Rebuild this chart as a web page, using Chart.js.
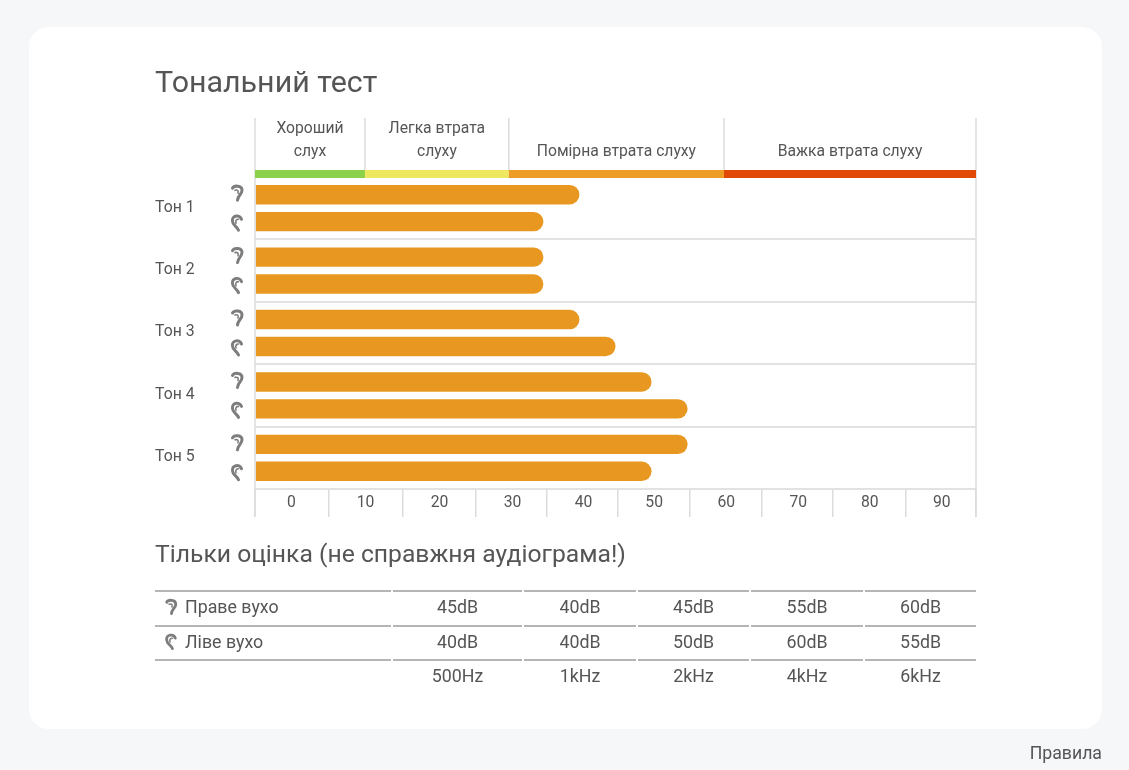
<!DOCTYPE html>
<html lang="uk">
<head>
<meta charset="utf-8">
<title>Тональний тест</title>
<style>
html,body{margin:0;padding:0;background:#f6f7f9;width:1129px;height:770px;overflow:hidden;font-family:Roboto,sans-serif;color:#555}
#card{position:absolute;left:29px;top:27px;width:1073px;height:702px;background:#fff;border-radius:20px}
canvas{position:absolute;left:0;top:0}
h1,h2{position:absolute;margin:0;font-weight:400;white-space:nowrap;left:155px;color:#555}
h1{top:64px;font-size:30.4px;line-height:36px}
h2{top:538px;font-size:24.7px;line-height:32px}
#tbl{position:absolute;left:153px;top:590px;border-collapse:separate;border-spacing:2px 0;table-layout:fixed;width:825px;font-size:17.8px}
#tbl td{height:32.5px;padding:0;border-top:2px solid #b5b5b5;text-align:center;line-height:30px;vertical-align:top}
#tbl td.n{text-align:left;padding-left:30px;box-sizing:border-box}
#rules{position:absolute;right:27px;top:743px;font-size:17.7px;line-height:20px}
</style>
</head>
<body>
<div id="card"></div>
<canvas id="c" width="1129" height="770"></canvas>
<h1>Тональний тест</h1>
<h2>Тільки оцінка (не справжня аудіограма!)</h2>
<table id="tbl"></table>
<div id="rules">Правила</div>
<script src="https://cdn.jsdelivr.net/npm/chart.js@4"></script>
<script>
const tones = ['Тон 1','Тон 2','Тон 3','Тон 4','Тон 5'];
const rightEar = [45,40,45,55,60];
const leftEar = [40,40,50,60,55];
const axisLabels = ['0','10','20','30','40','50','60','70','80','90'];
const axisEdges = [0,10.26,20.53,30.65,40.5,50.3,60.3,70.3,80.2,90.2,100];
const zoneEdges = [0,15.25,35.2,65.05,100];
const zoneNames = [['Хороший','слух'],['Легка втрата','слуху'],['Помірна втрата слуху'],['Важка втрата слуху']];
const zoneColors = ['#8bd14a','#eee860','#ed9c26','#e04a06'];
const freqs = ['500Hz','1kHz','2kHz','4kHz','6kHz'];
const tableRight = [45,40,45,55,60];
const tableLeft = [40,40,50,60,55];
const barColor = '#e89820';
const rowNames = ['Праве вухо','Ліве вухо'];

const widths = [236,129,112,111,112,111];
const tbl = document.getElementById('tbl');
const cg = document.createElement('colgroup');
widths.forEach(w=>{const c=document.createElement('col');c.style.width=w+'px';cg.appendChild(c);});
tbl.appendChild(cg);
function row(first,vals,suffix){
  const tr=document.createElement('tr');
  const a=document.createElement('td');a.className='n';a.textContent=first;tr.appendChild(a);
  vals.forEach(v=>{const d=document.createElement('td');d.textContent=v+suffix;tr.appendChild(d);});
  tbl.appendChild(tr);
}
row(rowNames[0],tableRight,'dB');
row(rowNames[1],tableLeft,'dB');
row('',freqs,'');

function ear(ctx,x,y,left,s){
  ctx.save();
  ctx.translate(x,y);
  ctx.scale(s,s);
  ctx.strokeStyle='#7d7d7d';
  ctx.lineCap='round';
  ctx.lineWidth=3;
  ctx.beginPath();
  if(!left){
    ctx.moveTo(-4.5,-5);
    ctx.bezierCurveTo(-3,-8,5,-8,5,-3);
    ctx.bezierCurveTo(5,1,1,2,0.5,7);
    ctx.stroke();
    ctx.lineWidth=1.6;
    ctx.beginPath();
    ctx.moveTo(-2,-3);ctx.quadraticCurveTo(2,-4,1,0);
  }else{
    ctx.moveTo(4.5,-3);
    ctx.bezierCurveTo(3,-8,-5.5,-7,-4.5,-1);
    ctx.bezierCurveTo(-4.5,3,0,4,1.5,8);
    ctx.stroke();
    ctx.lineWidth=1.6;
    ctx.beginPath();
    ctx.moveTo(1.5,-3);ctx.quadraticCurveTo(-2,-3,-1,1);
  }
  ctx.stroke();
  ctx.restore();
}

const overlay = {
  id:'overlay',
  afterDatasetsDraw(chart){
    const {ctx,scales:{x,y},chartArea:a}=chart;
    ctx.save();
    const bandTop=a.top-7, bandH=8, headTop=118, axisBottom=a.bottom+28;
    ctx.strokeStyle='#dcdcdc';ctx.lineWidth=1.5;
    [0,100].forEach(v=>{const p=x.getPixelForValue(v);ctx.beginPath();ctx.moveTo(p,headTop);ctx.lineTo(p,axisBottom);ctx.stroke();});
    zoneEdges.slice(1,-1).forEach(v=>{const p=x.getPixelForValue(v);ctx.beginPath();ctx.moveTo(p,headTop);ctx.lineTo(p,bandTop);ctx.stroke();});
    ctx.font='15.7px Roboto';ctx.textAlign='center';ctx.textBaseline='middle';
    zoneNames.forEach((lines,i)=>{
      const l=x.getPixelForValue(zoneEdges[i]),r=x.getPixelForValue(zoneEdges[i+1]);
      ctx.fillStyle=zoneColors[i];ctx.fillRect(l,bandTop,r-l,bandH);
      ctx.fillStyle='#555';
      const m=(l+r)/2;
      lines.forEach((t,k)=>{ctx.fillText(t,m,152-(lines.length-1-k)*23);});
    });
    tones.forEach((t,i)=>{
      const c=y.getPixelForValue(i);
      ear(ctx,237,c-15,false,1);
      ear(ctx,237,c+14,true,1);
    });
    ear(ctx,171,607,false,0.95);
    ear(ctx,171,641,true,0.95);
    ctx.restore();
  }
};

new Chart(document.getElementById('c'),{
  type:'bar',
  plugins:[overlay],
  data:{labels:tones,datasets:[
    {label:rowNames[0],data:rightEar,backgroundColor:barColor},
    {label:rowNames[1],data:leftEar,backgroundColor:barColor}
  ]},
  options:{
    indexAxis:'y',
    responsive:false,
    animation:false,
    devicePixelRatio:1,
    categoryPercentage:0.8626,
    barPercentage:0.722,
    layout:{padding:{left:155,right:153,top:177,bottom:253}},
    elements:{bar:{borderRadius:10,borderSkipped:'start',inflateAmount:0}},
    plugins:{legend:{display:false},tooltip:{enabled:false},title:{display:false}},
    scales:{
      x:{
        type:'linear',min:0,max:100,
        afterBuildTicks(s){s.ticks=axisEdges.map(v=>({value:v}));},
        afterFit(s){s.height=28;},
        border:{display:false},
        grid:{drawOnChartArea:false,drawTicks:true,tickLength:28,color:'#dcdcdc',lineWidth:1.5},
        ticks:{autoSkip:false,maxRotation:0,minRotation:0,padding:-23.5,labelOffset:36.5,color:'#555',font:{family:'Roboto',size:15.7},
          callback(v,i){return axisLabels[i]||'';}}
      },
      y:{
        afterFit(s){s.width=100;},
        border:{display:false},
        grid:{drawTicks:false,color:'#e2e2e2',lineWidth:2},
        ticks:{crossAlign:'far',padding:0,labelOffset:-0.5,color:'#555',font:{family:'Roboto',size:15.8}}
      }
    }
  }
});
</script>
</body>
</html>
